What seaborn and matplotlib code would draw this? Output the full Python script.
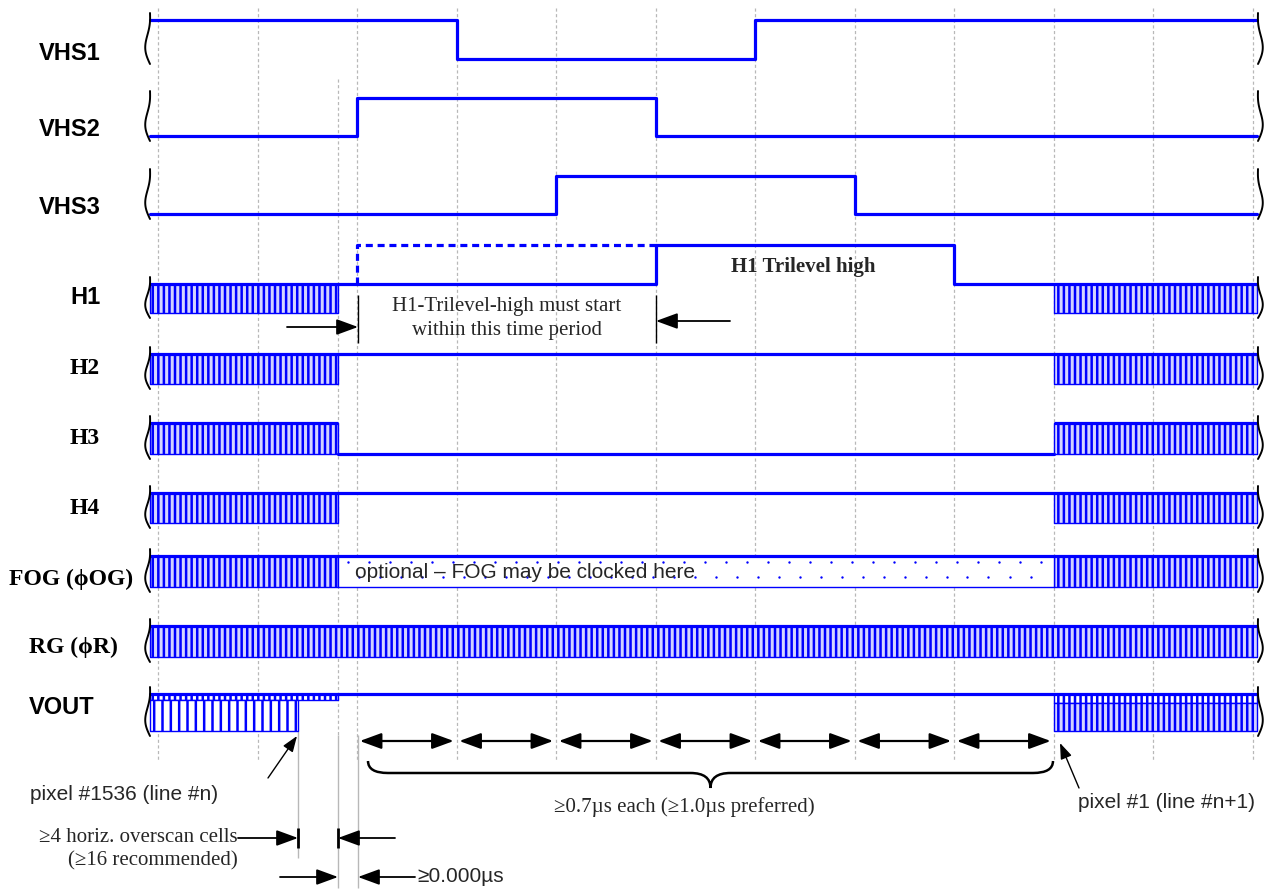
import numpy as np
import matplotlib
matplotlib.use("Agg")
import matplotlib.pyplot as plt
from matplotlib.path import Path
from matplotlib.patches import PathPatch
import seaborn as sns

# ---------------- data (time in clock-grid units) ----------------
T_START, T_END = -0.08, 11.05
grid_times = list(range(12))

vhs1_t = [T_START, 3, 6, T_END]; vhs1_v = [1, 0, 1, 1]
vhs2_t = [T_START, 2, 5, T_END]; vhs2_v = [0, 1, 0, 0]
vhs3_t = [T_START, 4, 7, T_END]; vhs3_v = [0, 1, 0, 0]
h1_t = [1.81, 5, 8, 9];          h1_v = [0, 1, 0, 0]
h1_alt_t = [2, 2, 5];            h1_alt_v = [0, 1, 1]
h2_t = [1.81, 9]; h2_v = [1, 1]
h3_t = [1.81, 9]; h3_v = [0, 0]
h4_t = [1.81, 9]; h4_v = [1, 1]
vout_t = [T_START, T_END]; vout_v = [1, 1]

clock_left = [T_START, 1.81]
clock_right = [9, T_END]
rg_clock = [T_START, T_END]
fog_optional = [1.81, 9]
vout_read_left = [T_START, 1.41]
pixel_periods = [2, 3, 4, 5, 6, 7, 8, 9]

labels = ["VHS1", "VHS2", "VHS3", "H1", "H2", "H3", "H4",
          "FOG (\u03d5OG)", "RG (\u03d5R)", "VOUT"]

# ---------------- layout ----------------
W, H, DPI = 1273, 893, 100
X0, XU = 158.0, 99.5          # pixel of t=0, pixels per time unit
BLUE = "#0000ff"
HATCH_FACE = "#d4d4ff"
GRAY = "#b8b8b8"

sns.set_theme(style="white")
plt.rcParams["hatch.color"] = BLUE
plt.rcParams["hatch.linewidth"] = 1.8
SANS = ["Liberation Sans", "DejaVu Sans"]
SERIF = ["Liberation Serif", "DejaVu Serif"]

fig = plt.figure(figsize=(W / DPI, H / DPI), dpi=DPI)
ax = fig.add_axes([0, 0, 1, 1])
ax.set_xlim(-X0 / XU, (W - X0) / XU)
ax.set_ylim(H, 0)
ax.axis("off")


def px(x):
    return (np.asarray(x, dtype=float) - X0) / XU


# row geometry: (y of level 1, y of level 0) in pixels
rows = {
    "VHS1": (20, 59), "VHS2": (98, 136), "VHS3": (176, 214),
    "H1": (245, 284), "H2": (354, 384), "H3": (423, 454), "H4": (493, 523),
    "FOG": (556, 587), "RG": (626, 657), "VOUT": (694, 731),
}


def ylev(row, lev):
    hi, lo = rows[row]
    return lo + (hi - lo) * np.asarray(lev, dtype=float)


# grid lines
DASH = (0, (2.5, 2))
ax.vlines(grid_times, 8, 760, colors=GRAY, linestyles=DASH, lw=0.9, zorder=0)
ax.vlines([px(338)], 79, 735, colors=GRAY, linestyles=DASH, lw=0.9, zorder=0)
ax.vlines([px(338), px(358)], 735, 888, colors=GRAY, lw=1.0, zorder=0)
ax.vlines([px(298)], 731, 858, colors=GRAY, lw=1.0, zorder=0)


def line(t, v, row, **kw):
    sns.lineplot(x=list(t), y=list(ylev(row, v)), ax=ax, color=BLUE,
                 lw=kw.pop("lw", 2.3), drawstyle="steps-post",
                 estimator=None, sort=False, zorder=3, **kw)


def band(span, ytop, ybot, hatch="|||", face=HATCH_FACE, top_lw=2.3):
    ax.fill_between(span, ytop, ybot, facecolor=face, edgecolor=BLUE,
                    hatch=hatch, lw=1.0, zorder=2)
    ax.plot(span, [ytop, ytop], color=BLUE, lw=top_lw, zorder=3,
            solid_capstyle="butt")


line(vhs1_t, vhs1_v, "VHS1")
line(vhs2_t, vhs2_v, "VHS2")
line(vhs3_t, vhs3_v, "VHS3")

# H1 trilevel
h1_band_bottom = 313
for span in (clock_left, clock_right):
    band(span, ylev("H1", 0), h1_band_bottom)
line(h1_t, h1_v, "H1")
line(h1_alt_t, h1_alt_v, "H1", linestyle=(0, (2.2, 1.5)), lw=2.3)

for name, t, v in (("H2", h2_t, h2_v), ("H3", h3_t, h3_v), ("H4", h4_t, h4_v)):
    hi, lo = rows[name]
    for span in (clock_left, clock_right):
        band(span, hi, lo)
    line(t, v, name)

# FOG
hi, lo = rows["FOG"]
for span in (clock_left, clock_right):
    band(span, hi, lo)
ax.fill_between(fog_optional, hi, lo, facecolor="white", edgecolor=BLUE,
                lw=1.0, zorder=2)
ax.plot(fog_optional, [hi, hi], color=BLUE, lw=2.3, zorder=3)
# sparse dot fill of the optional region
dot_x1 = np.arange(338 + 10, 1054 - 4, 21.0)
dot_x2 = dot_x1 + 10.5
keep2 = dot_x2 < 1050
ax.scatter(px(np.concatenate([dot_x1, dot_x2[keep2]])),
           np.concatenate([np.full(len(dot_x1), hi + 6.0),
                           np.full(int(keep2.sum()), hi + 21.0)]),
           s=3, color=BLUE, linewidths=0, zorder=2)

# RG
hi, lo = rows["RG"]
band(rg_clock, hi, lo)

# VOUT
hi, lo = rows["VOUT"]
mid = hi + 6
ax.fill_between([T_START, 1.81], hi, mid, facecolor="white", edgecolor=BLUE,
                hatch="|||", lw=1.0, zorder=2)
ax.fill_between(vout_read_left, mid, lo, facecolor="white", edgecolor=BLUE,
                hatch="||", lw=1.0, zorder=2)
ax.fill_between(clock_right, hi, mid + 3, facecolor="white", edgecolor=BLUE,
                hatch="|||", lw=1.0, zorder=2)
ax.fill_between(clock_right, mid + 3, lo, facecolor=HATCH_FACE, edgecolor=BLUE,
                hatch="|||", lw=1.0, zorder=2)
line(vout_t, vout_v, "VOUT")


# break squiggles
def squiggle(xp, y0, y1, side):
    u = np.linspace(0, 1, 60)
    xs = xp + side * (-3.5 * np.sin(np.pi * u) + 2.0 * np.sin(2 * np.pi * u))
    ax.plot(px(xs), y0 + u * (y1 - y0), color="black", lw=1.4, zorder=4)


for name, (a, b) in rows.items():
    top, bot = min(a, b), max(a, b)
    if name == "H1":
        top, bot = 284, 313
    squiggle(150, top - 7, bot + 5, 1)
    squiggle(1258, top - 7, bot + 5, -1)

# labels
label_pos = {
    "VHS1": (70, 53, "center", SANS), "VHS2": (70, 129, "center", SANS),
    "VHS3": (70, 207, "center", SANS), "H1": (85, 298, "center", SANS),
    "H2": (85, 368, "center", SERIF), "H3": (85, 438, "center", SERIF),
    "H4": (85, 508, "center", SERIF), "FOG (\u03d5OG)": (71, 579, "center", SERIF),
    "RG (\u03d5R)": (73, 647, "center", SERIF), "VOUT": (62, 707, "center", SANS),
}
for lab in labels:
    x, y, ha, fam = label_pos[lab]
    ax.text(px(x), y, lab, ha=ha, va="center", fontsize=17, fontweight="bold",
            family=fam, color="black")

# annotations
ax.text(px(803), 267, "H1 Trilevel high", ha="center", va="center",
        fontsize=15, fontweight="bold", family=SERIF)
ax.text(px(507), 307, "H1-Trilevel-high must start",
        ha="center", va="center", fontsize=15, family=SERIF)
ax.text(px(507), 330, "within this time period",
        ha="center", va="center", fontsize=15, family=SERIF)
ax.text(px(355), 573, "optional \u2013 FOG may be clocked here", ha="left",
        va="center", fontsize=15, family=SANS, zorder=5)
ax.text(px(30), 795, "pixel #1536 (line #n)", ha="left", va="center",
        fontsize=15, family=SANS)
ax.text(px(1078), 803, "pixel #1 (line #n+1)", ha="left", va="center",
        fontsize=15, family=SANS)
ax.text(px(238), 838, "\u22654 horiz. overscan cells", ha="right", va="center",
        fontsize=15, family=SERIF)
ax.text(px(238), 861, "(\u226516 recommended)", ha="right", va="center",
        fontsize=15, family=SERIF)
ax.text(px(417), 877, "\u22650.000\u00b5s", ha="left", va="center",
        fontsize=15, family=SANS)
ax.text(px(684), 807, "\u22650.7\u00b5s each (\u22651.0\u00b5s preferred)",
        ha="center", va="center", fontsize=15, family=SERIF)

HEAD = "-|>,head_length=0.6,head_width=0.22"
HEAD2 = "<|-|>,head_length=0.6,head_width=0.22"


def arrow(x_from, y_from, x_to, y_to, style=HEAD, ms=22, lw=1.3, shrink=0):
    ax.annotate("", xy=(px(x_to), y_to), xytext=(px(x_from), y_from),
                arrowprops=dict(arrowstyle=style, mutation_scale=ms, color="black",
                                lw=lw, shrinkA=shrink, shrinkB=shrink), zorder=5)


# H1 window
ax.vlines([px(358), px(656)], 295, 343, colors="black", lw=1.0)
arrow(287, 327, 358, 327)
arrow(730, 321, 656, 321)

# pixel period arrows
for a, b in zip(pixel_periods[:-1], pixel_periods[1:]):
    ax.annotate("", xy=(b, 741), xytext=(a, 741),
                arrowprops=dict(arrowstyle=HEAD2, mutation_scale=22, color="black",
                                lw=1.6, shrinkA=2, shrinkB=2))

# curly brace
bx0, bx1, by_end, by_mid, by_tip = 368, 1053, 761, 773, 788
bxc = (bx0 + bx1) / 2
verts = [(bx0, by_end), (bx0, by_mid), (bx0 + 20, by_mid),
         (bxc - 20, by_mid), (bxc, by_mid), (bxc, by_tip),
         (bxc, by_mid), (bxc + 20, by_mid),
         (bx1 - 20, by_mid), (bx1, by_mid), (bx1, by_end)]
codes = [Path.MOVETO, Path.CURVE3, Path.CURVE3, Path.LINETO, Path.CURVE3, Path.CURVE3,
         Path.CURVE3, Path.CURVE3, Path.LINETO, Path.CURVE3, Path.CURVE3]
verts = [(float(px(x)), y) for x, y in verts]
ax.add_patch(PathPatch(Path(verts, codes), fill=False, lw=1.8, color="black"))

# pixel pointers
arrow(268, 778, 297, 736, ms=16, lw=1.0)
arrow(1079, 788, 1060, 743, ms=16, lw=1.0)

# overscan arrows
ax.vlines([px(298), px(338)], 828, 848, colors="black", lw=2.0)
arrow(238, 838, 298, 838)
arrow(395, 838, 338, 838)
arrow(280, 877, 338, 877)
arrow(415, 877, 358, 877)

fig.savefig("out.png", dpi=DPI, facecolor="white")
